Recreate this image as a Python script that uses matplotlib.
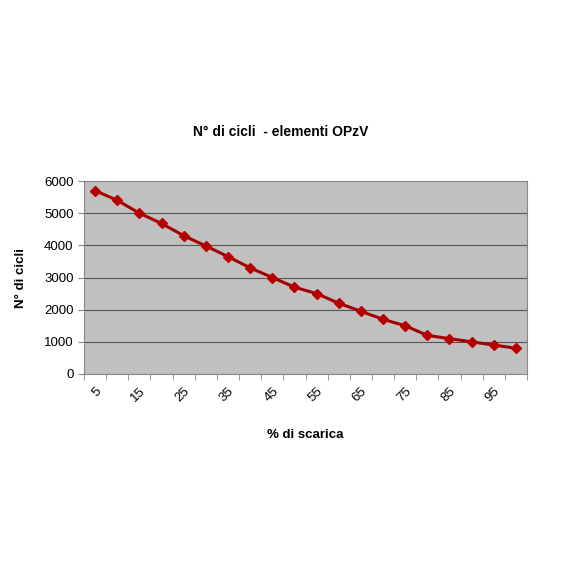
import matplotlib
matplotlib.use("Agg")
import matplotlib.pyplot as plt
import numpy as np

plt.rcParams['font.family'] = ['Liberation Sans', 'DejaVu Sans']

scarica = [5, 10, 15, 20, 25, 30, 35, 40, 45, 50, 55, 60, 65, 70, 75, 80, 85, 90, 95, 100]
cicli = [5700, 5400, 5000, 4680, 4300, 3980, 3650, 3300, 3000, 2700,
         2500, 2200, 1950, 1700, 1500, 1200, 1100, 1000, 900, 800]
yticks = [0, 1000, 2000, 3000, 4000, 5000, 6000]

fig = plt.figure(figsize=(5.65, 5.65), dpi=100)
ax = fig.add_axes([84/565, 1-374/565, (527-84)/565, (374-181)/565])
ax.set_facecolor('#C0C0C0')

x = np.arange(len(scarica))
ax.plot(x, cicli, color='#A00000', lw=2.2, marker='D', ms=5,
        markerfacecolor='#B00000', markeredgecolor='#C00000', zorder=3)

ax.set_xlim(-0.5, len(scarica) - 0.5)
ax.set_ylim(0, 6000)
ax.set_yticks(yticks)
ax.set_yticklabels([str(v) for v in yticks], fontsize=9.5)
ax.yaxis.grid(True, color='#555555', lw=0.8)
ax.set_axisbelow(True)

ax.set_xticks(x[::2])
ax.set_xticklabels([str(s) for s in scarica[::2]], rotation=45, ha='right',
                   rotation_mode='anchor', fontsize=9.5)
ax.tick_params(axis='x', length=0, pad=8)
ax.set_xticks(np.arange(-0.5, len(scarica)), minor=True)
ax.tick_params(axis='x', which='minor', length=4, color='#888888')
ax.tick_params(axis='y', length=4, color='#888888')

for s in ['top', 'right', 'left', 'bottom']:
    ax.spines[s].set_color('#888888')

ax.set_ylabel('N° di cicli', fontsize=9.5, fontweight='bold', labelpad=12)
ax.set_xlabel('% di scarica', fontsize=9.5, fontweight='bold', labelpad=18)
fig.text(281/565, 1-132/565, 'N° di cicli  - elementi OPzV', ha='center', va='center',
         fontsize=10, fontweight='bold')

fig.savefig('out.png', dpi=100, facecolor='white')
